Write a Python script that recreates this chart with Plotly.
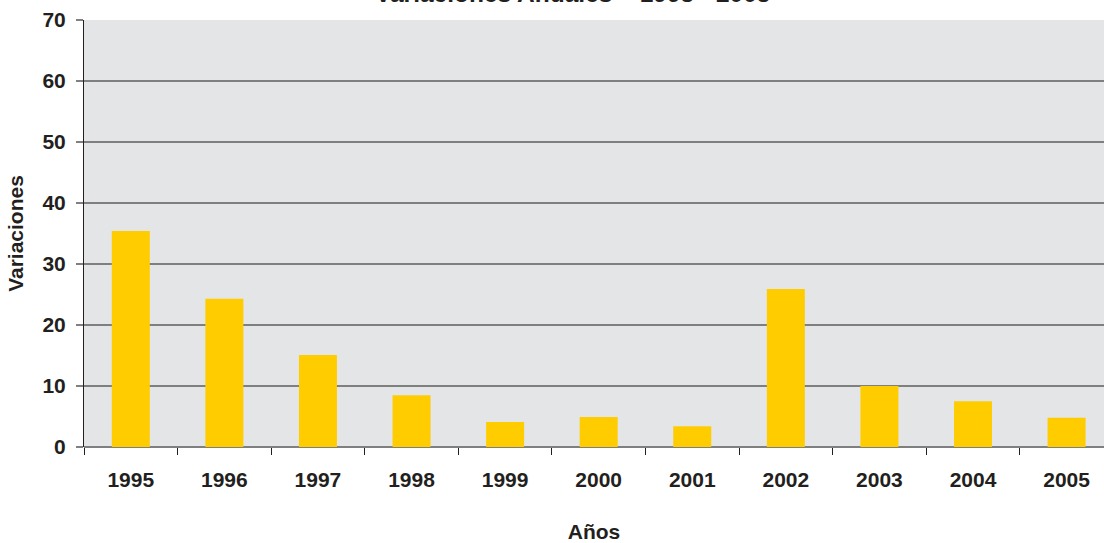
import plotly.graph_objects as go

# Datos
anios = ["1995", "1996", "1997", "1998", "1999", "2000",
         "2001", "2002", "2003", "2004", "2005"]
variaciones = [35.4, 24.3, 15.1, 8.5, 4.1, 4.9, 3.4, 25.9, 10.0, 7.5, 4.8]
y_ticks = [0, 10, 20, 30, 40, 50, 60, 70]
titulo = "Variaciones Anuales – 1995 - 2005"

texto = "#231F20"
fuente = "Liberation Sans, Arial, sans-serif"
negrita = dict(size=21, family=fuente, color=texto, weight="bold")

fig = go.Figure()

fig.add_trace(go.Bar(
    x=anios,
    y=variaciones,
    marker=dict(color="#FFCC00", line=dict(width=0)),
    hoverinfo="x+y",
))

fig.update_layout(
    width=1104,
    height=543,
    margin=dict(l=84, r=0, t=20, b=96, autoexpand=False),
    paper_bgcolor="white",
    plot_bgcolor="#E4E5E7",
    bargap=0.594,
    showlegend=False,
    font=dict(family=fuente, color=texto),
)

# titulo cortado en el borde superior, como en el original
fig.add_annotation(
    text=titulo,
    xref="paper", yref="paper",
    x=0.479, y=1.061,
    xanchor="center", yanchor="middle",
    showarrow=False,
    font=dict(size=24.5, family=fuente, color=texto, weight="bold"),
)

fig.update_xaxes(
    type="category",
    range=[-0.5, 10.4],
    automargin=False,
    tickson="boundaries",
    ticks="outside",
    ticklen=7,
    tickcolor="#231F20",
    tickwidth=1,
    tickfont=negrita,
    ticklabelstandoff=18,
    showgrid=False,
    showline=False,
    title=dict(text="Años", font=negrita, standoff=37),
)

fig.update_yaxes(
    range=[0, 70],
    tickvals=y_ticks,
    automargin=False,
    ticks="outside",
    ticklen=7,
    tickcolor="#808080",
    tickwidth=2,
    tickfont=negrita,
    ticklabelstandoff=6,
    showgrid=True,
    gridcolor="#7F7F7F",
    gridwidth=2,
    zeroline=True,
    zerolinecolor="#7F7F7F",
    zerolinewidth=2,
    showline=True,
    linecolor="#231F20",
    linewidth=1,
    title=dict(text="Variaciones", font=negrita, standoff=13),
)

# sin margen del body para que la figura ocupe la ventana entera
fig.write_html(
    "out.html",
    config={"displayModeBar": False},
    post_script="document.body.style.margin='0';",
)
